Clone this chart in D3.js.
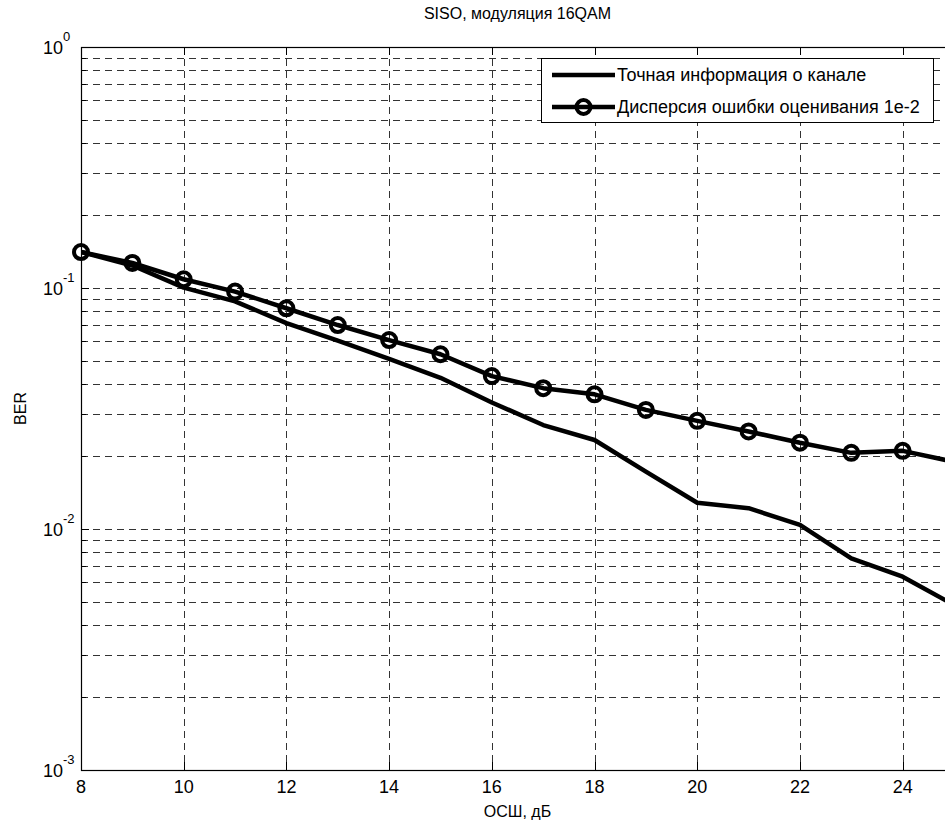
<head>
	<meta charset="utf-8">
	<title>SISO 16QAM BER</title>
	<script src="https://d3js.org/d3.v7.min.js"></script>
	<style>
		body { margin: 0; background: #fff; }
		text { font-family: "Liberation Sans", Arial, sans-serif; fill: #000; }
	</style>
</head>
<body>
	<script type="text/javascript">
	// data
	var snr = [8, 9, 10, 11, 12, 13, 14, 15, 16, 17, 18, 19, 20, 21, 22, 23, 24, 25];
	var berPerfect = [0.141, 0.124, 0.1003, 0.088, 0.0715, 0.0605, 0.0508, 0.0424, 0.0335, 0.027, 0.0234, 0.0173, 0.01285, 0.0122, 0.0104, 0.00756, 0.00634, 0.00484];
	var berEst = [0.141, 0.127, 0.1087, 0.0966, 0.0824, 0.0702, 0.0608, 0.0531, 0.0431, 0.0384, 0.0362, 0.0312, 0.0281, 0.0254, 0.0228, 0.0207, 0.0211, 0.019];
	var xTicks = [8, 10, 12, 14, 16, 18, 20, 22, 24];
	var yDecades = [1e-3, 1e-2, 1e-1, 1];
	var yExps = ["-3", "-2", "-1", "0"];
	var legendLabels = ["Точная информация о канале", "Дисперсия ошибки оценивания 1e-2"];

	var w = 945, h = 823;
	var pL = 81, pR = 954, pT = 47, pB = 770;

	var svg = d3.select("body").append("svg")
		.attr("width", w)
		.attr("height", h);

	var x = d3.scaleLinear().domain([8, 25]).range([pL, pR]);
	var y = d3.scaleLog().domain([1e-3, 1]).range([pB, pT]);

	// minor values for the log grid
	var yMinor = [];
	[1e-3, 1e-2, 1e-1].forEach(function(d) {
		for (var k = 2; k <= 9; k++) yMinor.push(d * k);
	});

	var grid = svg.append("g")
		.attr("stroke", "#333")
		.attr("stroke-width", 1)
		.attr("stroke-dasharray", "7,5");

	grid.selectAll("line.gy")
		.data(yMinor.concat([1e-2, 1e-1]))
		.enter().append("line")
		.attr("x1", pL).attr("x2", pR)
		.attr("y1", function(d) { return Math.round(y(d)) + 0.5; })
		.attr("y2", function(d) { return Math.round(y(d)) + 0.5; });

	grid.selectAll("line.gx")
		.data(xTicks.slice(1))
		.enter().append("line")
		.attr("y1", pT).attr("y2", pB)
		.attr("x1", function(d) { return Math.round(x(d)) + 0.5; })
		.attr("x2", function(d) { return Math.round(x(d)) + 0.5; });

	// inside tick marks
	var ticks = svg.append("g").attr("stroke", "#000").attr("stroke-width", 1);
	xTicks.forEach(function(d) {
		var px = Math.round(x(d)) + 0.5;
		ticks.append("line").attr("x1", px).attr("x2", px).attr("y1", pB).attr("y2", pB - 8);
		ticks.append("line").attr("x1", px).attr("x2", px).attr("y1", pT).attr("y2", pT + 8);
	});
	yDecades.forEach(function(d) {
		var py = Math.round(y(d)) + 0.5;
		ticks.append("line").attr("x1", pL).attr("x2", pL + 8).attr("y1", py).attr("y2", py);
	});
	yMinor.forEach(function(d) {
		var py = Math.round(y(d)) + 0.5;
		ticks.append("line").attr("x1", pL).attr("x2", pL + 5).attr("y1", py).attr("y2", py);
	});

	// axes box
	svg.append("rect")
		.attr("x", pL + 0.5).attr("y", pT + 0.5)
		.attr("width", pR - pL).attr("height", pB - pT)
		.attr("fill", "none").attr("stroke", "#000").attr("stroke-width", 1.2);

	// tick labels
	svg.selectAll("text.xt")
		.data(xTicks)
		.enter().append("text")
		.attr("x", function(d) { return x(d); })
		.attr("y", 793)
		.attr("text-anchor", "middle")
		.attr("font-size", "18px")
		.text(function(d) { return d; });

	yDecades.forEach(function(d, i) {
		svg.append("text")
			.attr("x", 63)
			.attr("y", y(d) + 7)
			.attr("text-anchor", "end")
			.attr("font-size", "18px")
			.text("10");
		svg.append("text")
			.attr("x", 63)
			.attr("y", y(d) - 6)
			.attr("font-size", "13px")
			.text(yExps[i]);
	});

	// lines
	var line = d3.line()
		.x(function(d, i) { return x(snr[i]); })
		.y(function(d) { return y(d); });

	svg.append("clipPath").attr("id", "plotclip")
		.append("rect").attr("x", pL).attr("y", pT)
		.attr("width", pR - pL).attr("height", pB - pT);

	var plot = svg.append("g").attr("clip-path", "url(#plotclip)");

	plot.append("path")
		.attr("d", line(berPerfect))
		.attr("fill", "none").attr("stroke", "#000")
		.attr("stroke-width", 4.5).attr("stroke-linejoin", "round");

	plot.append("path")
		.attr("d", line(berEst))
		.attr("fill", "none").attr("stroke", "#000")
		.attr("stroke-width", 4.5).attr("stroke-linejoin", "round");

	svg.selectAll("circle.mk")
		.data(berEst)
		.enter().append("circle")
		.attr("cx", function(d, i) { return x(snr[i]); })
		.attr("cy", function(d) { return y(d); })
		.attr("r", 7)
		.attr("fill", "none")
		.attr("stroke", "#000")
		.attr("stroke-width", 4);

	// title and axis labels
	svg.append("text")
		.attr("x", (pL + pR) / 2).attr("y", 19)
		.attr("text-anchor", "middle").attr("font-size", "16px")
		.text("SISO, модуляция 16QAM");

	svg.append("text")
		.attr("x", (pL + pR) / 2).attr("y", 817)
		.attr("text-anchor", "middle").attr("font-size", "16px")
		.text("ОСШ, дБ");

	svg.append("text")
		.attr("transform", "translate(26," + (pT + pB) / 2 + ") rotate(-90)")
		.attr("text-anchor", "middle").attr("font-size", "16px")
		.text("BER");

	// legend
	var lg = svg.append("g");
	lg.append("rect")
		.attr("x", 541.5).attr("y", 58.5)
		.attr("width", 392).attr("height", 64)
		.attr("fill", "#fff").attr("stroke", "#000").attr("stroke-width", 1);

	legendLabels.forEach(function(name, i) {
		var ly = 75 + i * 32;
		lg.append("line")
			.attr("x1", 552).attr("x2", 615)
			.attr("y1", ly).attr("y2", ly)
			.attr("stroke", "#000").attr("stroke-width", 4.5);
		if (i === 1) {
			lg.append("circle")
				.attr("cx", 583.5).attr("cy", ly).attr("r", 7)
				.attr("fill", "none").attr("stroke", "#000").attr("stroke-width", 4);
		}
		lg.append("text")
			.attr("x", 617).attr("y", ly + 6)
			.attr("font-size", "18px")
			.text(name);
	});
	</script>
</body>
